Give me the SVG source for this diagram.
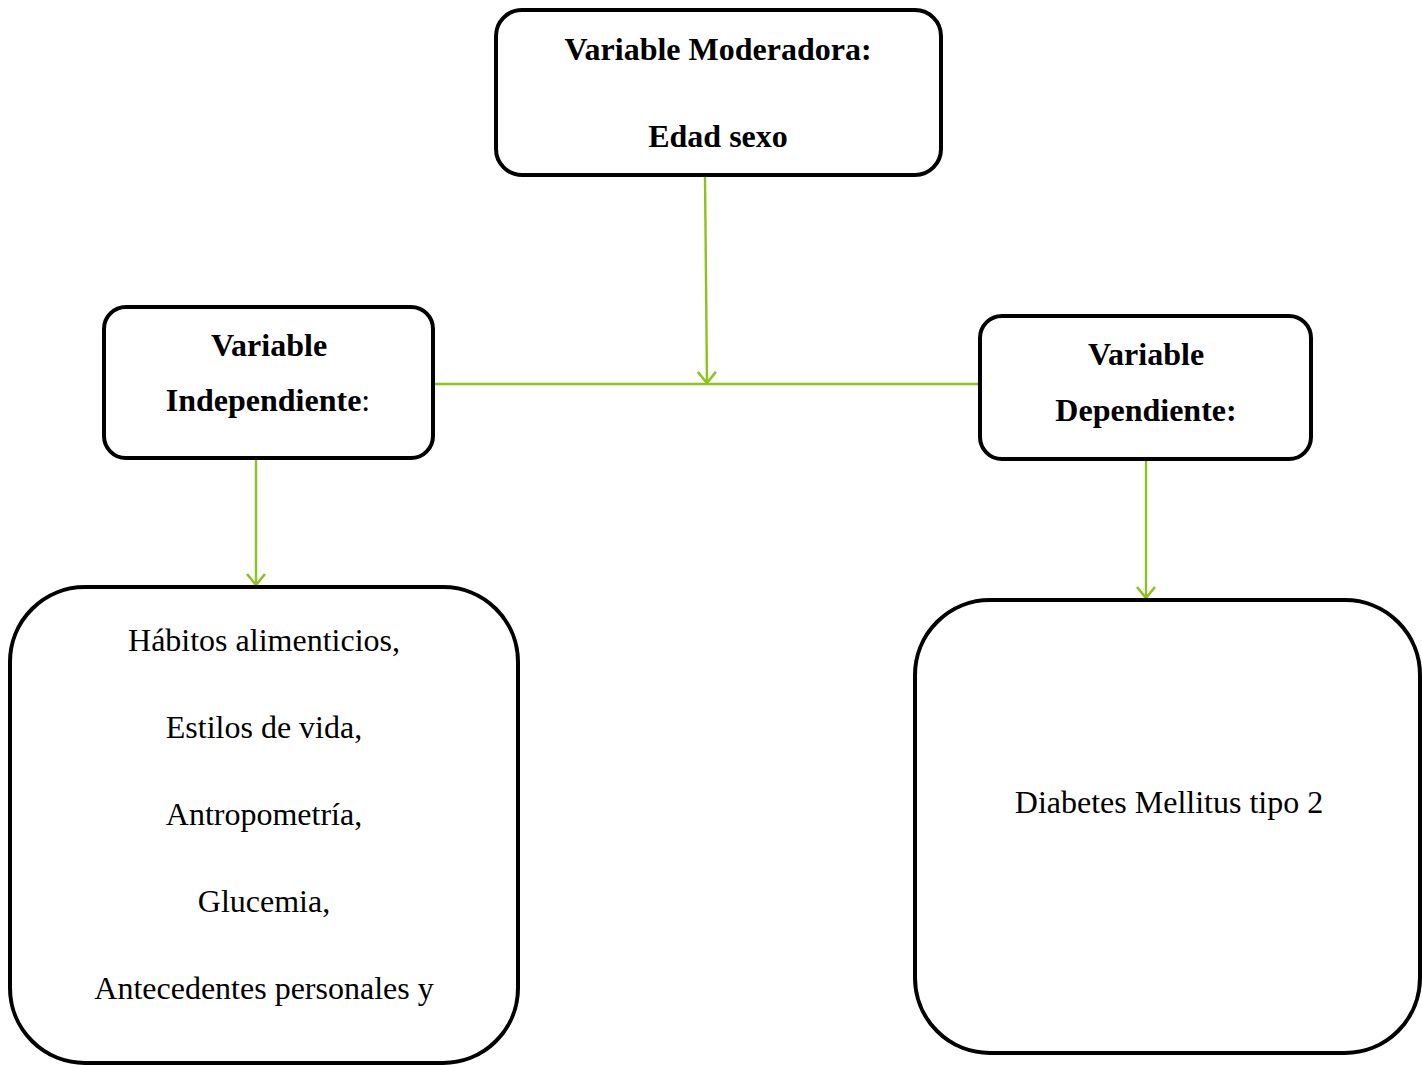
<svg xmlns="http://www.w3.org/2000/svg" width="1422" height="1065" viewBox="0 0 1422 1065">
<style>
.box{fill:#fff;stroke:#000;stroke-width:4}
.t{font-family:"Liberation Serif","Times New Roman",serif;font-size:32px;fill:#000;text-anchor:middle}
.b{font-weight:bold}
.c{stroke:#8DC21F;stroke-width:2.4;fill:none}
</style>
<defs>
<marker id="arr" viewBox="0 0 20 20" refX="18" refY="10" markerWidth="20" markerHeight="20" markerUnits="userSpaceOnUse" orient="auto">
<path d="M7,1 L18,10 L7,19" fill="none" stroke="#8DC21F" stroke-width="2.6"/>
</marker>
</defs>
<rect width="1422" height="1065" fill="#fff"/>
<g id="connectors">
<line class="c" x1="433" y1="384" x2="980" y2="384"/>
<line class="c" x1="705" y1="176" x2="707" y2="383" marker-end="url(#arr)"/>
<line class="c" x1="256" y1="459" x2="256" y2="585" marker-end="url(#arr)"/>
<line class="c" x1="1146" y1="460" x2="1146" y2="598" marker-end="url(#arr)"/>
</g>
<g id="moderadora">
<rect class="box" x="496" y="10" width="445" height="165" rx="26"/>
<text class="t b" x="718" y="60">Variable Moderadora:</text>
<text class="t b" x="718" y="147">Edad sexo</text>
</g>
<g id="independiente">
<rect class="box" x="104" y="307" width="329" height="151" rx="22"/>
<text class="t b" x="269" y="356">Variable</text>
<text class="t" x="268" y="411"><tspan class="b">Independiente</tspan>:</text>
</g>
<g id="dependiente">
<rect class="box" x="980" y="316" width="331" height="143" rx="22"/>
<text class="t b" x="1146" y="365">Variable</text>
<text class="t b" x="1146" y="421">Dependiente:</text>
</g>
<g id="indep-list">
<rect class="box" x="10" y="587" width="508" height="476" rx="75"/>
<text class="t" x="264" y="651">Hábitos alimenticios,</text>
<text class="t" x="264" y="738">Estilos de vida,</text>
<text class="t" x="264" y="825">Antropometría,</text>
<text class="t" x="264" y="912">Glucemia,</text>
<text class="t" x="264" y="999">Antecedentes personales y</text>
</g>
<g id="dep-list">
<rect class="box" x="915" y="600" width="505" height="453" rx="75"/>
<text class="t" x="1169" y="813">Diabetes Mellitus tipo 2</text>
</g>
</svg>
